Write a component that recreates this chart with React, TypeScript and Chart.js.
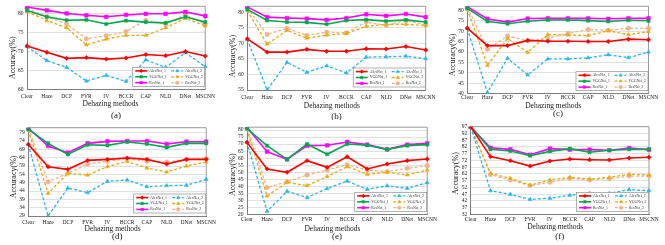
import React, { useEffect, useRef } from 'react';
import { Chart, registerables } from 'chart.js';
import { drawPoint } from 'chart.js/helpers';

Chart.register(...registerables);

const FONT = 'Liberation Serif';

const categories = ['Clear', 'Haze', 'DCP', 'FVR', 'IV', 'BCCR', 'CAP', 'NLD', 'DNet', 'MSCNN'];
const seriesNames = ['AlexNet_1', 'AlexNet_2', 'VGGNet_1', 'VGGNet_2', 'ResNet_1', 'ResNet_2'];

// (a)
const aTicks = [60, 65, 70, 75, 80];
const aAlexNet1 = [71.5, 69.8, 68.2, 68.4, 68.0, 68.3, 69.2, 68.9, 70.0, 68.8];
const aAlexNet2 = [71.3, 67.6, 65.8, 62.2, 63.7, 62.1, 67.8, 65.8, 69.7, 66.0];
const aVGGNet1 = [80.9, 79.2, 78.3, 78.4, 77.3, 78.2, 77.8, 77.6, 79.2, 77.8];
const aVGGNet2 = [80.6, 78.2, 76.3, 71.8, 73.3, 74.3, 74.3, 76.3, 78.8, 76.8];
const aResNet1 = [81.8, 80.9, 80.1, 79.6, 79.2, 79.7, 80.0, 80.0, 80.5, 79.4];
const aResNet2 = [81.5, 79.2, 77.3, 73.4, 74.2, 75.3, 78.3, 77.2, 79.8, 77.2];

// (b)
const bTicks = [55, 60, 65, 70, 75, 80];
const bAlexNet1 = [71.5, 67.2, 67.2, 68.1, 67.5, 67.5, 68.3, 68.2, 69.0, 67.9];
const bAlexNet2 = [71.3, 55.0, 63.9, 60.7, 62.8, 60.5, 65.6, 65.7, 65.9, 65.1];
const bVGGNet1 = [81.0, 77.4, 76.9, 76.8, 76.2, 77.4, 77.7, 77.2, 77.6, 76.9];
const bVGGNet2 = [80.6, 69.8, 74.2, 71.7, 72.7, 73.2, 75.5, 76.2, 76.2, 75.8];
const bResNet1 = [81.8, 78.5, 78.2, 78.0, 77.6, 78.2, 79.4, 78.9, 79.5, 78.5];
const bResNet2 = [81.5, 72.9, 74.9, 72.6, 73.7, 73.5, 76.9, 75.8, 77.4, 76.0];

// (c)
const cTicks = [40, 45, 50, 55, 60, 65, 70, 75, 80];
const cAlexNet1 = [71.5, 63.1, 63.1, 65.6, 65.2, 65.2, 65.1, 65.1, 66.2, 65.9];
const cAlexNet2 = [71.3, 40.5, 57.0, 49.0, 56.7, 56.7, 57.2, 58.7, 57.3, 60.0];
const cVGGNet1 = [81.0, 74.7, 73.6, 74.8, 75.4, 75.4, 75.1, 74.7, 75.3, 75.0];
const cVGGNet2 = [80.6, 53.6, 66.5, 59.8, 68.4, 68.2, 67.9, 70.2, 68.4, 69.8];
const cResNet1 = [81.8, 75.9, 74.4, 76.1, 76.2, 76.2, 76.2, 76.0, 76.2, 76.2];
const cResNet2 = [81.5, 61.3, 67.7, 65.4, 66.7, 69.0, 70.8, 70.5, 71.4, 71.4];

// (d)
const dTicks = [29, 34, 39, 44, 49, 54, 59, 64, 69, 74, 79];
const dAlexNet1 = [72.0, 58.6, 57.0, 62.4, 63.0, 63.8, 63.0, 60.2, 63.0, 63.0];
const dAlexNet2 = [72.0, 29.0, 45.8, 43.0, 49.8, 50.6, 46.6, 47.2, 47.4, 51.0];
const dVGGNet1 = [81.0, 72.6, 66.0, 71.8, 71.4, 73.4, 72.2, 70.2, 72.6, 72.6];
const dVGGNet2 = [80.6, 42.6, 54.6, 53.6, 58.6, 61.8, 57.8, 55.4, 59.0, 61.4];
const dResNet1 = [81.8, 71.0, 67.0, 72.6, 73.8, 74.0, 74.0, 72.2, 73.6, 73.6];
const dResNet2 = [81.5, 49.6, 54.6, 60.2, 61.8, 63.4, 61.8, 61.4, 63.0, 63.6];

// (e)
const eTicks = [20, 25, 30, 35, 40, 45, 50, 55, 60, 65, 70, 75, 80];
const eAlexNet1 = [71.2, 52.3, 49.9, 58.2, 53.4, 61.0, 52.3, 55.8, 58.2, 59.4];
const eAlexNet2 = [71.2, 22.1, 36.4, 31.9, 38.3, 43.7, 37.8, 40.2, 38.5, 42.5];
const eVGGNet1 = [81.0, 68.9, 59.1, 70.0, 62.7, 70.0, 69.1, 66.2, 68.9, 69.6];
const eVGGNet2 = [80.6, 33.0, 42.8, 40.4, 46.8, 53.9, 48.5, 49.9, 48.0, 51.5];
const eResNet1 = [81.8, 64.6, 59.1, 68.9, 69.1, 71.5, 69.6, 66.2, 69.6, 70.5];
const eResNet2 = [81.5, 39.0, 43.2, 48.0, 51.5, 55.3, 51.5, 50.4, 52.7, 54.6];

// (f)
const fTicks = [32, 37, 42, 47, 52, 57, 62, 67, 72, 77, 82, 87, 92, 97];
const fAlexNet1 = [97.0, 74.8, 71.8, 67.8, 71.5, 73.0, 72.5, 72.3, 73.8, 74.3];
const fAlexNet2 = [96.8, 49.5, 46.8, 43.1, 43.9, 46.1, 47.6, 47.6, 50.3, 49.5];
const fVGGNet1 = [97.0, 80.2, 79.0, 75.5, 78.7, 80.7, 78.0, 79.5, 80.2, 80.2];
const fVGGNet2 = [97.0, 62.4, 58.7, 53.7, 57.5, 59.4, 58.2, 59.4, 61.7, 61.2];
const fResNet1 = [97.0, 81.4, 80.2, 76.2, 80.7, 80.0, 80.0, 79.5, 81.2, 80.0];
const fResNet2 = [97.0, 61.4, 57.5, 53.3, 55.7, 58.7, 57.5, 58.4, 60.4, 60.4];

const panels = [
  { caption: '(a)', ticks: aTicks, min: 60, max: 82, series: [aAlexNet1, aAlexNet2, aVGGNet1, aVGGNet2, aResNet1, aResNet2] },
  { caption: '(b)', ticks: bTicks, min: 55, max: 82, series: [bAlexNet1, bAlexNet2, bVGGNet1, bVGGNet2, bResNet1, bResNet2] },
  { caption: '(c)', ticks: cTicks, min: 40, max: 82, series: [cAlexNet1, cAlexNet2, cVGGNet1, cVGGNet2, cResNet1, cResNet2] },
  { caption: '(d)', ticks: dTicks, min: 29, max: 82, series: [dAlexNet1, dAlexNet2, dVGGNet1, dVGGNet2, dResNet1, dResNet2] },
  { caption: '(e)', ticks: eTicks, min: 20, max: 82, series: [eAlexNet1, eAlexNet2, eVGGNet1, eVGGNet2, eResNet1, eResNet2] },
  { caption: '(f)', ticks: fTicks, min: 32, max: 97, series: [fAlexNet1, fAlexNet2, fVGGNet1, fVGGNet2, fResNet1, fResNet2] },
];

// layout (positions / sizes only); ySpace / xSpace shift axis titles
const frames = [
  { x: 0, y: 0, w: 220, h: 120, left: 27, top: 2.8, right: 208, bottom: 89.3, tickPad: 5, xTitleOff: 16, capY: 116, yTitleX: 12.5, ySpace: 10, xSpace: 6 },
  { x: 220, y: 0, w: 220, h: 120, left: 27.3, top: 3.6, right: 208.5, bottom: 90, tickPad: 4.5, xTitleOff: 14, capY: 116.7, yTitleX: 12.5, ySpace: 8, xSpace: 5 },
  { x: 440, y: 0, w: 225, h: 120, left: 27.3, top: 2.8, right: 208.5, bottom: 93.7, tickPad: 1.5, xTitleOff: 14, capY: 114, yTitleX: 13, ySpace: 5, xSpace: 5 },
  { x: 0, y: 120, w: 220, h: 125, left: 28.3, top: 7.7, right: 208.5, bottom: 96, tickPad: 4, xTitleOff: 16.3, capY: 116.7, yTitleX: 14, ySpace: 5, xSpace: 5 },
  { x: 220, y: 120, w: 220, h: 125, left: 27, top: 7.2, right: 208.5, bottom: 94.3, tickPad: 3, xTitleOff: 16.3, capY: 117, yTitleX: 13, ySpace: 4, xSpace: 5 },
  { x: 440, y: 120, w: 225, h: 125, left: 30.7, top: 6.7, right: 209, bottom: 94.3, tickPad: 3, xTitleOff: 18.3, capY: 116.7, yTitleX: 16, ySpace: 3, xSpace: 5 },
];

const styles = [
  { color: '#FF0000', dash: [] as number[], point: 'rectRot', r: 2.2, w: 1.6 },
  { color: '#2AB5EC', dash: [3, 2], point: 'triangle', r: 2.3, w: 1.3 },
  { color: '#00A84F', dash: [] as number[], point: 'rect', r: 2.2, w: 1.6 },
  { color: '#E6AC18', dash: [3, 2], point: 'triangle', r: 2.3, w: 1.3 },
  { color: '#FF00FF', dash: [] as number[], point: 'rect', r: 2.6, w: 1.6 },
  { color: '#F5B28A', dash: [3, 2], point: 'circle', r: 2.2, w: 1.3 },
];

const TEXT = '#222';

function Panel({ p, f }: { p: any; f: any }) {
  const ref = useRef<HTMLCanvasElement>(null);
  useEffect(() => {
    const framePlugin = {
      id: 'frameTR',
      beforeDatasetsDraw(chart: any) {
        const { ctx, chartArea: ca } = chart;
        ctx.save();
        ctx.strokeStyle = '#9A9A9A';
        ctx.lineWidth = 1;
        ctx.beginPath();
        ctx.moveTo(ca.left, ca.top);
        ctx.lineTo(ca.right, ca.top);
        ctx.lineTo(ca.right, ca.bottom);
        ctx.stroke();
        ctx.restore();
      },
    };
    const legendPlugin = {
      id: 'insetLegend',
      afterDatasetsDraw(chart: any) {
        const { ctx, chartArea: ca } = chart;
        const w = 72, h = 19;
        const x0 = ca.right - w - 0.5, y0 = ca.bottom - h - 3;
        ctx.save();
        ctx.fillStyle = '#fff';
        ctx.fillRect(x0, y0, w, h);
        ctx.strokeStyle = '#7f7f7f';
        ctx.lineWidth = 0.6;
        ctx.strokeRect(x0, y0, w, h);
        chart.data.datasets.forEach((ds: any, i: number) => {
          const col = i % 2, row = Math.floor(i / 2);
          const lx = x0 + 2.5 + col * 36, ly = y0 + 3.6 + row * 5.9;
          ctx.strokeStyle = ds.borderColor;
          ctx.lineWidth = ds.borderWidth;
          ctx.setLineDash(ds.borderDash || []);
          ctx.beginPath();
          ctx.moveTo(lx, ly);
          ctx.lineTo(lx + 12, ly);
          ctx.stroke();
          ctx.setLineDash([]);
          ctx.fillStyle = ds.backgroundColor;
          ctx.lineWidth = 0.5;
          drawPoint(ctx, { pointStyle: ds.pointStyle, radius: 1.8, borderWidth: 0.5, rotation: 0 } as any, lx + 6, ly);
          ctx.fillStyle = '#333';
          ctx.font = `3.8px "${FONT}"`;
          ctx.textBaseline = 'middle';
          ctx.textAlign = 'left';
          ctx.fillText(ds.label, lx + 14, ly);
        });
        ctx.restore();
      },
    };
    const captionPlugin = {
      id: 'caption',
      afterDraw(chart: any) {
        const { ctx, chartArea: ca } = chart;
        ctx.save();
        ctx.fillStyle = TEXT;
        ctx.font = `9px "${FONT}"`;
        ctx.textAlign = 'center';
        ctx.textBaseline = 'middle';
        ctx.fillText(p.caption, (ca.left + ca.right) / 2, f.capY);
        ctx.restore();
      },
    };

    const chart = new Chart(ref.current as HTMLCanvasElement, {
      type: 'line',
      data: {
        labels: categories,
        datasets: p.series.map((vals: number[], i: number) => ({
          label: seriesNames[i],
          data: vals,
          borderColor: styles[i].color,
          backgroundColor: styles[i].color,
          borderWidth: styles[i].w,
          borderDash: styles[i].dash,
          pointStyle: styles[i].point,
          pointRadius: styles[i].r,
          pointBorderWidth: 0.5,
          tension: 0,
          fill: false,
        })),
      },
      options: {
        responsive: false,
        animation: false,
        devicePixelRatio: 1,
        events: [],
        layout: { padding: { left: 0, top: f.top, right: f.w - f.right, bottom: 0 } },
        plugins: {
          legend: { display: false },
          tooltip: { enabled: false },
          title: { display: false },
        },
        scales: {
          x: {
            type: 'category',
            offset: false,
            grid: { display: false, drawTicks: false },
            border: { display: true, color: '#7f7f7f', width: 1 },
            ticks: {
              font: { family: FONT, size: 5.5, lineHeight: 1 },
              color: TEXT,
              padding: f.tickPad,
              maxRotation: 0,
              minRotation: 0,
              autoSkip: false,
            },
            title: {
              display: true,
              text: 'Dehazing methods' + ' '.repeat(f.xSpace),
              font: { family: FONT, size: 7.5, lineHeight: 1.2 },
              color: TEXT,
              padding: { top: 0, bottom: f.xTitleOff - 4.5 },
            },
            afterFit: (s: any) => {
              s.height = f.h - f.bottom;
            },
          },
          y: {
            type: 'linear',
            min: p.min,
            max: p.max,
            grid: { color: '#D9D9D9', lineWidth: 0.8, drawTicks: false },
            border: { display: true, color: '#7f7f7f', width: 1 },
            ticks: {
              font: { family: FONT, size: 5.5, lineHeight: 1 },
              color: TEXT,
              padding: 3.5,
              autoSkip: false,
            },
            afterBuildTicks: (s: any) => {
              s.ticks = p.ticks.map((v: number) => ({ value: v }));
            },
            title: {
              display: true,
              text: 'Accuracy(%)' + ' '.repeat(f.ySpace),
              font: { family: FONT, size: 8, lineHeight: 1.2 },
              color: TEXT,
              padding: { top: f.yTitleX - 4.8, bottom: 0 },
            },
            afterFit: (s: any) => {
              s.width = f.left;
            },
          },
        },
      },
      plugins: [framePlugin, legendPlugin, captionPlugin],
    } as any);
    return () => chart.destroy();
  }, []);
  return (
    <canvas
      ref={ref}
      width={f.w}
      height={f.h}
      style={{ position: 'absolute', left: f.x, top: f.y, width: f.w, height: f.h }}
    />
  );
}

export default function App() {
  return (
    <div style={{ position: 'absolute', left: 0, top: 0, width: 665, height: 245, background: '#fff', overflow: 'hidden' }}>
      {panels.map((p, i) => (
        <Panel key={i} p={p} f={frames[i]} />
      ))}
    </div>
  );
}
